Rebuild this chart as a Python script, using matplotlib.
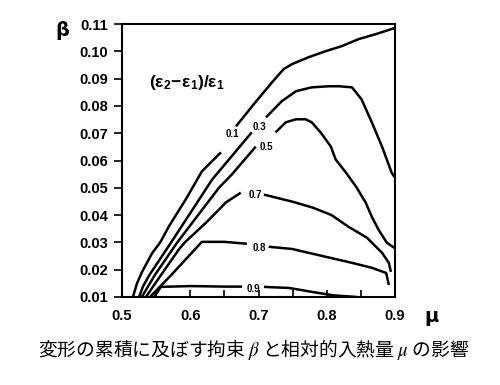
import numpy as np
import matplotlib
matplotlib.use('Agg')
import matplotlib.pyplot as plt
from matplotlib.ticker import MultipleLocator, FormatStrFormatter

# curve values, (e2-e1)/e1 = 0.1 ... 0.9
ratio_labels = ['0.1', '0.3', '0.5', '0.7', '0.8', '0.9']

mu_01 = [0.516, 0.522, 0.529, 0.544, 0.556, 0.569, 0.594, 0.617, 0.645,
         0.667, 0.693, 0.720, 0.737, 0.749, 0.774, 0.799, 0.822, 0.847, 0.872, 0.899]
beta_01 = [0.010, 0.015, 0.019, 0.026, 0.030, 0.036, 0.046, 0.056, 0.063,
           0.0725, 0.0806, 0.0887, 0.0935, 0.0953, 0.0979, 0.1001, 0.1019, 0.1045, 0.1063, 0.1085]

mu_03 = [0.525, 0.531, 0.540, 0.556, 0.572, 0.632, 0.690,
         0.711, 0.734, 0.755, 0.778, 0.803, 0.818, 0.837, 0.851, 0.866, 0.881, 0.895, 0.899]
beta_03 = [0.010, 0.014, 0.018, 0.024, 0.030, 0.053, 0.0703,
           0.0758, 0.0817, 0.0854, 0.0868, 0.0872, 0.0872, 0.0868, 0.0824, 0.074, 0.0651, 0.0556, 0.054]

mu_05 = [0.529, 0.548, 0.581, 0.642, 0.661, 0.696,
         0.725, 0.740, 0.755, 0.769, 0.778, 0.791, 0.806, 0.813, 0.828, 0.843, 0.857, 0.866, 0.876, 0.888, 0.899]
beta_05 = [0.010, 0.018, 0.030, 0.050, 0.0549, 0.0651,
           0.0703, 0.074, 0.0751, 0.0751, 0.074, 0.0703, 0.0651, 0.0604, 0.0556, 0.0504, 0.0446, 0.0394, 0.0346, 0.0299, 0.028]

mu_07 = [0.535, 0.557, 0.583, 0.592, 0.623, 0.642, 0.652, 0.674,
         0.708, 0.750, 0.780, 0.807, 0.832, 0.859, 0.881, 0.891, 0.894]
beta_07 = [0.010, 0.018, 0.0273, 0.030, 0.0372, 0.042, 0.0446, 0.0482,
           0.0475, 0.0449, 0.0427, 0.040, 0.0357, 0.0317, 0.0262, 0.0225, 0.0192]

mu_08 = [0.541, 0.572, 0.617, 0.650, 0.683,
         0.715, 0.749, 0.799, 0.837, 0.866, 0.887, 0.891]
beta_08 = [0.010, 0.018, 0.0302, 0.0302, 0.0295,
           0.0284, 0.0276, 0.0247, 0.0225, 0.0207, 0.0188, 0.0144]

mu_09 = [0.547, 0.557, 0.600, 0.650, 0.676,
         0.708, 0.745, 0.780, 0.810, 0.844]
beta_09 = [0.010, 0.0137, 0.014, 0.0138, 0.0138,
           0.0137, 0.0133, 0.0118, 0.0106, 0.010]

# number of points before the break where the inline label sits
gap_after = [9, 7, 6, 8, 5, 5]
label_mu = [0.661, 0.702, 0.712, 0.696, 0.701, 0.692]
label_beta = [0.0696, 0.0721, 0.0651, 0.0475, 0.0278, 0.0130]

curves = [(mu_01, beta_01), (mu_03, beta_03), (mu_05, beta_05),
          (mu_07, beta_07), (mu_08, beta_08), (mu_09, beta_09)]

plt.rcParams['mathtext.fontset'] = 'custom'
plt.rcParams['mathtext.bf'] = 'Liberation Sans:bold'
plt.rcParams['mathtext.rm'] = 'Liberation Sans:bold'

fig = plt.figure(figsize=(5, 3.85), dpi=100)
ax = fig.add_axes([0.244, 0.2286, 0.546, 0.709])

for (mu, beta), g in zip(curves, gap_after):
    ax.plot(mu[:g], beta[:g], color='black', linewidth=1.8, solid_capstyle='butt')
    ax.plot(mu[g:], beta[g:], color='black', linewidth=1.8, solid_capstyle='butt')

for lab, lx, ly in zip(ratio_labels, label_mu, label_beta):
    ax.text(lx, ly, lab, fontsize=7, fontweight='bold', family='Liberation Sans',
            ha='center', va='center')

ax.set_xlim(0.5, 0.9)
ax.set_ylim(0.01, 0.11)
ax.xaxis.set_major_locator(MultipleLocator(0.1))
ax.xaxis.set_minor_locator(MultipleLocator(0.05))
ax.xaxis.set_major_formatter(FormatStrFormatter('%.1f'))
ax.yaxis.set_major_locator(MultipleLocator(0.01))
ax.yaxis.set_major_formatter(FormatStrFormatter('%.2f'))
ax.tick_params(axis='x', which='both', direction='in', length=5, width=1.2, pad=9)
ax.tick_params(axis='y', direction='out', length=6, width=1.2, pad=4)
for lbl in ax.get_xticklabels() + ax.get_yticklabels():
    lbl.set_family('Liberation Sans')
    lbl.set_fontweight('bold')
    lbl.set_fontsize(10.5)
for sp in ax.spines.values():
    sp.set_linewidth(1.5)

ax.text(0.238, 0.7875, r'$\mathbf{(ε_2\!-\!ε_1)/ε_1}$', transform=ax.transAxes,
        fontsize=12.5, ha='center', va='center')

fig.text(62 / 500, 1 - 31 / 385, 'β', fontsize=14, fontweight='bold',
         family='DejaVu Sans', ha='center', va='center')
fig.text(432 / 500, 1 - 317 / 385, 'μ', fontsize=14, fontweight='bold',
         family='DejaVu Sans', ha='center', va='center')

cap = fig.text(0.508, 1 - 350 / 385,
               '変形の累積に及ぼす拘束 $\\beta$ と相対的入熱量 $\\mu$ の影響',
               fontsize=13.5, family=['Noto Sans CJK JP', 'DejaVu Sans'],
               ha='center', va='center')
cap.get_fontproperties().set_math_fontfamily('stix')

fig.savefig('out.png', dpi=100)
